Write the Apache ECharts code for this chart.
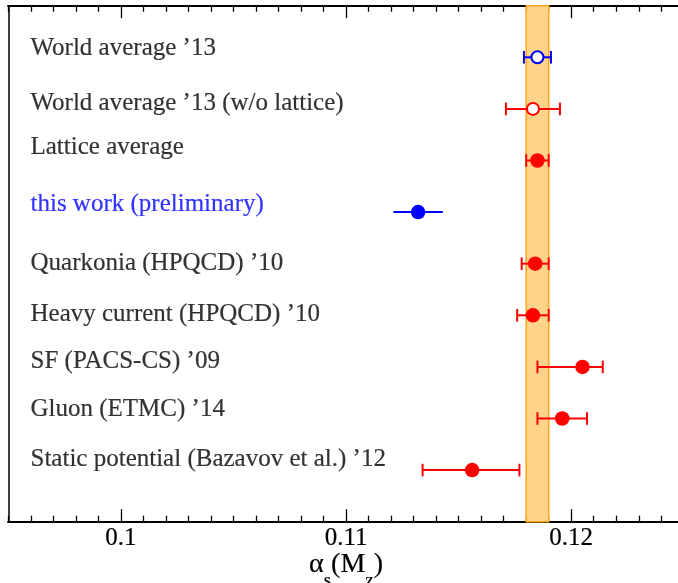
<!DOCTYPE html>
<html><head><meta charset="utf-8">
<script src="https://cdn.jsdelivr.net/npm/echarts@6/dist/echarts.min.js"></script>
<style>html,body{margin:0;padding:0;background:#fff}#c{width:678px;height:583px}</style>
</head><body><div id="c"></div>
<script>
// ---- data ----
const labels = [
  "World average \u201913",
  "World average \u201913 (w/o lattice)",
  "Lattice average",
  "this work (preliminary)",
  "Quarkonia (HPQCD) \u201910",
  "Heavy current (HPQCD) \u201910",
  "SF (PACS-CS) \u201909",
  "Gluon (ETMC) \u201914",
  "Static potential (Bazavov et al.) \u201912"
];
const values   = [0.1185, 0.1183, 0.1185, 0.1132, 0.1184, 0.1183, 0.1205, 0.1196, 0.1156];
const errMinus = [0.0006, 0.0012, 0.0005, 0.0011, 0.0006, 0.0007, 0.0020, 0.0011, 0.0022];
const errPlus  = [0.0006, 0.0012, 0.0005, 0.0011, 0.0006, 0.0007, 0.0009, 0.0011, 0.0021];
const bandRange = [0.118, 0.119];
const xTickLabels = [0.1, 0.11, 0.12];
const xRange = [0.095, 0.125];
const minorStep = 0.001;

// ---- styles ----
const BLUE = '#0000ff', RED = '#ff0000';
const rowStyle = [
  {color: BLUE, open: true,  caps: true,  text: '#000'},
  {color: RED,  open: true,  caps: true,  text: '#000'},
  {color: RED,  open: false, caps: true,  text: '#000'},
  {color: BLUE, open: false, caps: false, text: BLUE},
  {color: RED,  open: false, caps: true,  text: '#000'},
  {color: RED,  open: false, caps: true,  text: '#000'},
  {color: RED,  open: false, caps: true,  text: '#000'},
  {color: RED,  open: false, caps: true,  text: '#000'},
  {color: RED,  open: false, caps: true,  text: '#000'}
];
const labelDy = [-9, -5.7, -13, -7.5, -0.7, -1, -5.7, -9.3, -10.5];
const FONT = 'Liberation Serif, Times New Roman, serif';
const TB = 0.2;

const rows = labels.map((_, i) => i + 1);
const minorVals = [];
for (let k = 0; ; k++) {
  const v = +(xRange[0] + k * minorStep).toFixed(4);
  if (v > xRange[1] + 1e-9) break;
  if (!xTickLabels.some(t => Math.abs(t - v) < 1e-9)) minorVals.push(v);
}

function xAx(pos, ticks, len, showLabel, extra) {
  return Object.assign({
    type: 'value', position: pos, gridIndex: 0,
    min: xRange[0], max: xRange[1],
    axisLine: {show: true, onZero: false, lineStyle: {color: '#000', width: 2}},
    axisTick: {show: true, inside: true, length: len, customValues: ticks,
               lineStyle: {color: '#000', width: 1.3}},
    axisLabel: showLabel ? {show: true, customValues: xTickLabels, margin: 4,
               fontFamily: FONT, fontSize: 25, lineHeight: 25, color: '#000',
               textBorderColor: '#000', textBorderWidth: TB,
               formatter: v => String(+v.toFixed(3))} : {show: false},
    splitLine: {show: false}
  }, extra || {});
}

const chart = echarts.init(document.getElementById('c'), null, {renderer: 'canvas'});
chart.setOption({
  animation: false,
  backgroundColor: '#fff',
  grid: {left: 8.3, top: 5.7, right: -5.8, bottom: 61.3, containLabel: false, outerBoundsMode: 'none'},
  xAxis: [
    xAx('bottom', xTickLabels, 12.5, true, {
      name: '{a|\u03b1}{s|s}{a|(M}{s|z}{a|)}',
      nameLocation: 'middle', nameGap: 17.3, nameMoveOverlap: false,
      nameTextStyle: {
        rich: {
          a: {fontFamily: FONT, fontSize: 28, lineHeight: 50, color: '#000',
              textBorderColor: '#000', textBorderWidth: TB},
          s: {fontFamily: FONT, fontSize: 19, verticalAlign: 'middle', padding: [33, 0, 0, 0], color: '#000',
              textBorderColor: '#000', textBorderWidth: TB}
        }
      }
    }),
    xAx('bottom', minorVals, 6, false),
    xAx('top', xTickLabels, 12.5, false),
    xAx('top', minorVals, 6, false)
  ],
  yAxis: {
    type: 'value', min: 0, max: 10, inverse: true,
    axisLine: {show: true, onZero: false, lineStyle: {color: '#000', width: 1.5}},
    axisTick: {show: false}, axisLabel: {show: false}, splitLine: {show: false}
  },
  series: [
    {
      type: 'scatter', xAxisIndex: 0, z: 2, silent: true,
      symbolSize: 0,
      data: rows.map((r, i) => ({
        value: [xRange[0], r],
        label: {show: true, position: 'right', distance: 0, offset: [22.2, labelDy[i]],
                formatter: labels[i], color: rowStyle[i].text,
                textBorderColor: rowStyle[i].text, textBorderWidth: TB,
                fontFamily: FONT, fontSize: 25, verticalAlign: 'middle'}
      })),
      markArea: {
        silent: true,
        itemStyle: {
          color: '#ffd38a', borderColor: '#ffa51a', borderWidth: 1.5,
          decal: {symbol: 'circle', symbolSize: 0.7, dashArrayX: [3, 3], dashArrayY: [3, 3],
                  color: 'rgba(255,165,20,0.45)'}
        },
        data: [[{xAxis: bandRange[0]}, {xAxis: bandRange[1]}]]
      }
    },
    {
      type: 'custom', xAxisIndex: 0, z: 3, silent: true,
      data: values.map((v, i) => [v - errMinus[i], v + errPlus[i], rows[i]]),
      encode: {x: [0, 1], y: 2},
      renderItem(params, api) {
        const st = rowStyle[params.dataIndex];
        const a = api.coord([api.value(0), api.value(2)]);
        const b = api.coord([api.value(1), api.value(2)]);
        const h = 6.3;
        const sty = {stroke: st.color, lineWidth: 2};
        const ch = [{type: 'line', shape: {x1: a[0], y1: a[1], x2: b[0], y2: b[1]}, style: sty}];
        if (st.caps) {
          ch.push({type: 'line', shape: {x1: a[0], y1: a[1] - h, x2: a[0], y2: a[1] + h}, style: sty});
          ch.push({type: 'line', shape: {x1: b[0], y1: b[1] - h, x2: b[0], y2: b[1] + h}, style: sty});
        }
        return {type: 'group', children: ch};
      }
    },
    {
      type: 'scatter', xAxisIndex: 0, z: 4, silent: true,
      data: values.map((v, i) => {
        const st = rowStyle[i];
        return {
          value: [v, rows[i]],
          symbolSize: st.open ? 12 : 14.5,
          itemStyle: st.open ? {color: '#fff', borderColor: st.color, borderWidth: 2, opacity: 1}
                             : {color: st.color, borderWidth: 0, opacity: 1}
        };
      })
    }
  ]
});
</script>
</body></html>
